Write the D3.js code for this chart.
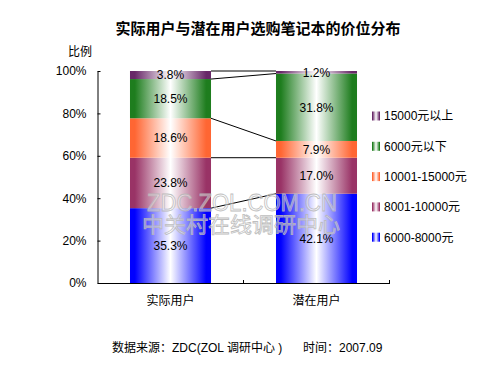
<!DOCTYPE html>
<html>
<head>
<meta charset="utf-8">
<script src="https://cdn.jsdelivr.net/npm/d3@7"></script>
<style>
  body { margin: 0; background: #fff; }
  text { font-family: Arial, "Liberation Sans", "Noto Sans CJK SC", sans-serif; }
</style>
</head>
<body>
<div id="chart"></div>
<script>
const categories = ['实际用户', '潜在用户'];
const seriesNames = ['6000-8000元', '8001-10000元', '10001-15000元', '6000元以下', '15000元以上'];
const actualUsers = [35.3, 23.8, 18.6, 18.5, 3.8];
const potentialUsers = [42.1, 17.0, 7.9, 31.8, 1.2];
const yTicks = [0, 20, 40, 60, 80, 100];
const colors = ['#0000ff', '#993366', '#ff6633', '#1e7d1e', '#682868'];

const width = 500, height = 375;
const plot = { left: 97.5, right: 389.5, top: 71, bottom: 283 };

const svg = d3.select('#chart').append('svg')
    .attr('width', width)
    .attr('height', height);

// horizontal gradients, colour at the edges, white in the middle
const defs = svg.append('defs');
colors.forEach((c, i) => {
    const g = defs.append('linearGradient')
        .attr('id', 'grad' + i)
        .attr('x1', 0).attr('x2', 1).attr('y1', 0).attr('y2', 0);
    g.append('stop').attr('offset', '0%').attr('stop-color', c);
    g.append('stop').attr('offset', '6%').attr('stop-color', c);
    g.append('stop').attr('offset', '50%').attr('stop-color', '#fff');
    g.append('stop').attr('offset', '94%').attr('stop-color', c);
    g.append('stop').attr('offset', '100%').attr('stop-color', c);
});

const rows = categories.map((cat, i) => {
    const vals = i === 0 ? actualUsers : potentialUsers;
    const row = { cat };
    seriesNames.forEach((s, j) => row[s] = vals[j]);
    return row;
});
const stacked = d3.stack().keys(seriesNames)(rows);

const x = d3.scaleBand()
    .domain(categories)
    .range([plot.left, plot.right])
    .paddingInner(0.445)
    .paddingOuter(0.2225);

const y = d3.scaleLinear()
    .domain([0, 100])
    .range([plot.bottom, plot.top]);

// title
svg.append('text')
    .attr('x', 258).attr('y', 34)
    .attr('text-anchor', 'middle')
    .style('font-size', '15px')
    .style('font-weight', 'bold')
    .text('实际用户与潜在用户选购笔记本的价位分布');

svg.append('text')
    .attr('x', 80).attr('y', 56)
    .attr('text-anchor', 'middle')
    .style('font-size', '12px')
    .text('比例');

// bars
const layer = svg.append('g').selectAll('g')
    .data(stacked)
    .enter().append('g')
    .attr('fill', (d, i) => `url(#grad${i})`);

layer.selectAll('rect')
    .data(d => d)
    .enter().append('rect')
    .attr('x', d => x(d.data.cat))
    .attr('width', x.bandwidth())
    .attr('y', d => y(d[1]))
    .attr('height', d => y(d[0]) - y(d[1]));

// connector lines between stack boundaries
const bounds = [];
stacked.forEach(s => bounds.push([s[0][1], s[1][1]]));
svg.append('g').selectAll('line')
    .data(bounds)
    .enter().append('line')
    .attr('x1', x(categories[0]) + x.bandwidth())
    .attr('x2', x(categories[1]))
    .attr('y1', d => y(d[0]))
    .attr('y2', d => y(d[1]))
    .attr('stroke', '#000')
    .attr('stroke-width', 1);

// watermark
const wm = svg.append('g')
    .attr('fill', 'rgba(255,255,255,0.45)')
    .attr('stroke', '#b8b8b8')
    .attr('stroke-width', 0.8)
    .attr('opacity', 0.9);
wm.append('text')
    .attr('x', 147).attr('y', 211)
    .attr('textLength', 190)
    .attr('lengthAdjust', 'spacingAndGlyphs')
    .style('font-size', '23px')
    .text('ZDC.ZOL.COM.CN');
wm.append('text')
    .attr('x', 142).attr('y', 232)
    .attr('textLength', 198)
    .attr('lengthAdjust', 'spacingAndGlyphs')
    .style('font-size', '21px')
    .text('中关村在线调研中心');

// segment labels
layer.each(function (s) {
    d3.select(this).selectAll('text')
        .data(s)
        .enter().append('text')
        .attr('x', d => x(d.data.cat) + x.bandwidth() / 2)
        .attr('y', d => (y(d[0]) + y(d[1])) / 2)
        .attr('dy', '0.36em')
        .attr('text-anchor', 'middle')
        .attr('fill', '#000')
        .style('font-size', '12px')
        .text(d => (d[1] - d[0]).toFixed(1) + '%');
});

// y axis
const yAxis = svg.append('g')
    .attr('transform', `translate(${plot.left},0)`)
    .call(d3.axisLeft(y)
        .tickValues(yTicks)
        .tickSizeInner(-3)
        .tickSizeOuter(0)
        .tickPadding(11)
        .tickFormat(d => d + '%'));
yAxis.selectAll('text').style('font-size', '12px').attr('fill', '#000');
yAxis.selectAll('line, path').attr('stroke', '#000');

// x axis
const xAxis = svg.append('g')
    .attr('transform', `translate(0,${plot.bottom})`)
    .call(d3.axisBottom(x).tickSize(0).tickPadding(13));
xAxis.select('.domain').attr('stroke', '#000');
xAxis.selectAll('text').style('font-size', '12px').attr('fill', '#000');
xAxis.selectAll('.sep')
    .data(categories)
    .enter().append('line')
    .attr('x1', (d, i) => plot.left + x.step() * (i + 1))
    .attr('x2', (d, i) => plot.left + x.step() * (i + 1))
    .attr('y1', 0).attr('y2', -3)
    .attr('stroke', '#000');

// legend
const legend = svg.append('g').selectAll('g')
    .data(seriesNames.slice().reverse())
    .enter().append('g')
    .attr('transform', (d, i) => `translate(372,${116 + i * 30.3})`);
legend.append('rect')
    .attr('x', 0).attr('y', -4.5)
    .attr('width', 8).attr('height', 9)
    .attr('fill', (d, i) => `url(#grad${seriesNames.length - 1 - i})`);
legend.append('text')
    .attr('x', 12).attr('y', 0)
    .attr('dy', '0.36em')
    .style('font-size', '12px')
    .text(d => d);

// footer
svg.append('text')
    .attr('x', 112).attr('y', 352)
    .style('font-size', '12px')
    .text('数据来源：ZDC(ZOL 调研中心 )');
svg.append('text')
    .attr('x', 303).attr('y', 352)
    .style('font-size', '12px')
    .text('时间：2007.09');
</script>
</body>
</html>
